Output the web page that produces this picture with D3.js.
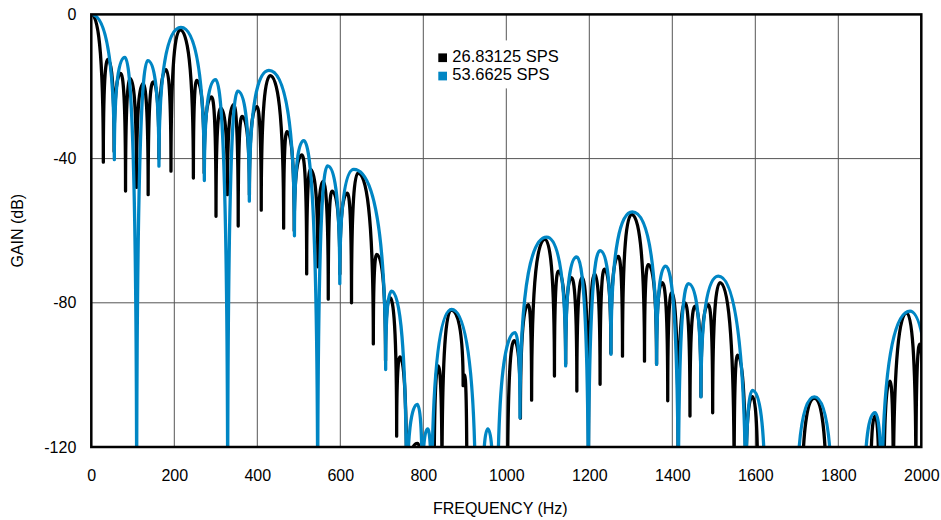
<!DOCTYPE html>
<html>
<head>
<meta charset="utf-8">
<script src="https://cdn.jsdelivr.net/npm/d3@7"></script>
<style>
  body { margin: 0; background: #fff; }
  text { font-family: 'Liberation Sans', Arial, sans-serif; fill: #000; }
</style>
</head>
<body>
<div id="chart"></div>
<script>
// tick labels
const freqTicks = [0, 200, 400, 600, 800, 1000, 1200, 1400, 1600, 1800, 2000]
const gainTicks = [0, -40, -80, -120]
const seriesNames = ['26.83125 SPS', '53.6625 SPS']

// [Hz, dB], alternating peak / null (first point is a peak)
const sps26 = [
  [0, 0], [29, -41], [40, -12.5], [55, -38], [71, -16.4], [82.5, -49], [94, -17.8],
  [109, -48], [124.6, -19.2], [137, -50], [149, -18.7], [163, -40], [180, -15.3],
  [192, -43.5], [214, -4.3], [246, -45.4], [254, -18.3], [272, -44], [290, -22.9],
  [300.5, -56], [312, -26], [328, -50], [343, -25], [354, -58.7], [363, -28.3],
  [381, -50], [399, -25.6], [409.5, -54.3], [431, -17], [463.5, -59.3], [471.5, -32.5],
  [489, -60], [507.7, -39], [519, -72], [528, -43], [546, -70], [558.3, -46.3],
  [571, -79], [580, -49], [599, -72], [617, -49.6], [627, -80], [642.7, -44],
  [679.6, -91.4], [687.6, -66.6], [709, -96], [719.7, -78.6], [735.8, -117], [744, -95],
  [760, -135], [786, -119], [797, -135], [812, -122], [826, -135], [836, -97.5],
  [845, -130], [867, -82], [896, -103], [899.5, -100], [905, -135], [955, -125],
  [1003, -135], [1019, -90.5], [1034, -112], [1053, -80.5], [1061, -107], [1093, -62.4],
  [1116, -100.3], [1125.4, -71.2], [1143, -97], [1157, -73], [1170, -104.5], [1183, -73],
  [1198, -125], [1213, -72], [1226, -102.6], [1236.3, -70.7], [1252, -94], [1270, -67.1],
  [1280, -94.8], [1302, -55.5], [1333, -96.2], [1342, -69.4], [1362, -97], [1376, -74.4],
  [1389, -107.2], [1398.5, -77.2], [1414, -125], [1430.6, -80], [1442.6, -111.4], [1454.7, -80.9],
  [1469, -106], [1486.8, -80.5], [1497.3, -110.5], [1515, -74.4], [1549, -130], [1557, -94.5],
  [1577, -135], [1593, -106], [1606, -135], [1660, -140], [1712, -140], [1742.3, -106.5],
  [1772, -140], [1830, -140], [1878, -135], [1888.5, -111.4], [1898, -135], [1904, -128],
  [1910, -135], [1924.6, -101.7], [1932.6, -135], [1964.8, -82.8], [1987, -130], [1996, -91.5],
  [2006, -130]
]

const sps53 = [
  [0, 0], [55.5, -40.3], [81, -11.9], [109.3, -140], [136, -12.8], [163, -42.1],
  [216, -3.6], [272.4, -46.1], [299.7, -18.1], [328.6, -140], [352.7, -21.3], [380.8, -51.8],
  [428, -15.5], [489.5, -61.4], [512, -35], [545.5, -140], [569.2, -42], [598.8, -74.7],
  [632.5, -43], [709.3, -98.5], [723.8, -76.8], [760, -140], [785.6, -108.2], [797.7, -135],
  [810.5, -115], [820, -140], [868.3, -81.8], [926, -140], [934, -132], [943, -140],
  [955.5, -115], [969, -140], [974, -135], [979, -140], [1021, -88.3], [1033, -111.9],
  [1097.3, -61.8], [1143, -97.5], [1169.6, -67.3], [1197.7, -140], [1225.8, -65.5], [1252.3, -94.3],
  [1303.7, -54.8], [1362.3, -97.1], [1384, -69.8], [1414.5, -140], [1438.6, -74.7], [1469.1, -106.1],
  [1510.9, -72.6], [1577, -140], [1593, -104.3], [1624, -140], [1662, -145], [1700, -140],
  [1742.3, -106.1], [1785, -140], [1825, -145], [1862, -140], [1888.5, -110.5], [1904.5, -140],
  [1972.8, -82.3], [2025, -140]
]

const seriesColors = ['#000000', '#0086c4']

const margin = { top: 14.4, right: 19.7, bottom: 73, left: 91.3 }
const width = 941 - margin.left - margin.right
const height = 520 - margin.top - margin.bottom

const svg = d3
  .select('#chart')
  .append('svg')
  .attr('width', width + margin.left + margin.right)
  .attr('height', height + margin.top + margin.bottom)
  .append('g')
  .attr('transform', `translate(${margin.left}, ${margin.top})`)

const xPositionScale = d3.scaleLinear().domain([0, 2000]).range([0, width])
const yPositionScale = d3.scaleLinear().domain([-120, 0]).range([height, 0])

svg
  .append('clipPath')
  .attr('id', 'plot-clip')
  .append('rect')
  .attr('width', width)
  .attr('height', height)

// grid
svg
  .selectAll('.vgrid')
  .data(freqTicks.slice(1, -1))
  .enter()
  .append('line')
  .attr('class', 'vgrid')
  .attr('x1', d => xPositionScale(d))
  .attr('x2', d => xPositionScale(d))
  .attr('y1', 0)
  .attr('y2', height)
  .attr('stroke', '#555')
  .attr('stroke-width', 1)

svg
  .selectAll('.hgrid')
  .data(gainTicks.slice(1, -1))
  .enter()
  .append('line')
  .attr('class', 'hgrid')
  .attr('x1', 0)
  .attr('x2', width)
  .attr('y1', d => yPositionScale(d))
  .attr('y2', d => yPositionScale(d))
  .attr('stroke', '#555')
  .attr('stroke-width', 1)

// lobes: round top at each peak, steep fall into each null
function lobePath(pts) {
  const p = d3.path()
  const a = 0.5
  const b = 0.2
  const xy = pts.map(d => [xPositionScale(d[0]), yPositionScale(d[1])])
  p.moveTo(xy[0][0], xy[0][1])
  for (let i = 1; i < xy.length; i++) {
    const [x0, y0] = xy[i - 1]
    const [x1, y1] = xy[i]
    if (i % 2 === 1) {
      // peak -> null
      p.bezierCurveTo(x0 + a * (x1 - x0), y0, x1, y0 + b * (y1 - y0), x1, y1)
    } else {
      // null -> peak
      p.bezierCurveTo(x0, y1 + b * (y0 - y1), x1 + a * (x0 - x1), y1, x1, y1)
    }
  }
  return p.toString()
}

svg
  .selectAll('.response')
  .data([sps26, sps53])
  .enter()
  .append('path')
  .attr('class', 'response')
  .attr('clip-path', 'url(#plot-clip)')
  .attr('d', d => lobePath(d))
  .attr('fill', 'none')
  .attr('stroke', (d, i) => seriesColors[i])
  .attr('stroke-width', 3.3)
  .attr('stroke-linejoin', 'round')
  .attr('stroke-linecap', 'round')

// axes (plain hyphen minus, no thousands comma)
const xAxis = d3
  .axisBottom(xPositionScale)
  .tickValues(freqTicks)
  .tickSize(0)
  .tickPadding(23)
  .tickFormat(d => String(d))
svg
  .append('g')
  .attr('class', 'axis x-axis')
  .attr('transform', 'translate(0,' + height + ')')
  .call(xAxis)

const yAxis = d3
  .axisLeft(yPositionScale)
  .tickValues(gainTicks)
  .tickSize(0)
  .tickPadding(15)
  .tickFormat(d => String(d))
svg
  .append('g')
  .attr('class', 'axis y-axis')
  .call(yAxis)

svg.selectAll('.axis .domain').remove()
svg
  .selectAll('.axis text')
  .attr('font-size', 16)
  .attr('font-family', "'Liberation Sans', Arial, sans-serif")

// frame
svg
  .append('rect')
  .attr('width', width)
  .attr('height', height)
  .attr('fill', 'none')
  .attr('stroke', '#000')
  .attr('stroke-width', 2.5)

// titles
svg
  .append('text')
  .attr('x', width / 2 - 6)
  .attr('y', height + 67)
  .attr('text-anchor', 'middle')
  .attr('font-size', 16)
  .text('FREQUENCY (Hz)')

svg
  .append('text')
  .attr('transform', `translate(${-margin.left + 23}, ${height / 2}) rotate(-90)`)
  .attr('text-anchor', 'middle')
  .attr('font-size', 16)
  .text('GAIN (dB)')

// legend
const legend = svg.append('g').attr('transform', 'translate(337, 26)')

legend
  .append('rect')
  .attr('width', 137)
  .attr('height', 48)
  .attr('fill', '#fff')

legend
  .selectAll('.swatch')
  .data(seriesNames)
  .enter()
  .append('rect')
  .attr('class', 'swatch')
  .attr('x', 10)
  .attr('y', (d, i) => 13 + i * 18.3)
  .attr('width', 8.7)
  .attr('height', 8.7)
  .attr('fill', (d, i) => seriesColors[i])

legend
  .selectAll('.label')
  .data(seriesNames)
  .enter()
  .append('text')
  .attr('class', 'label')
  .attr('x', 24)
  .attr('y', (d, i) => 21.8 + i * 18.3)
  .attr('font-size', 16.5)
  .text(d => d)
</script>
</body>
</html>
